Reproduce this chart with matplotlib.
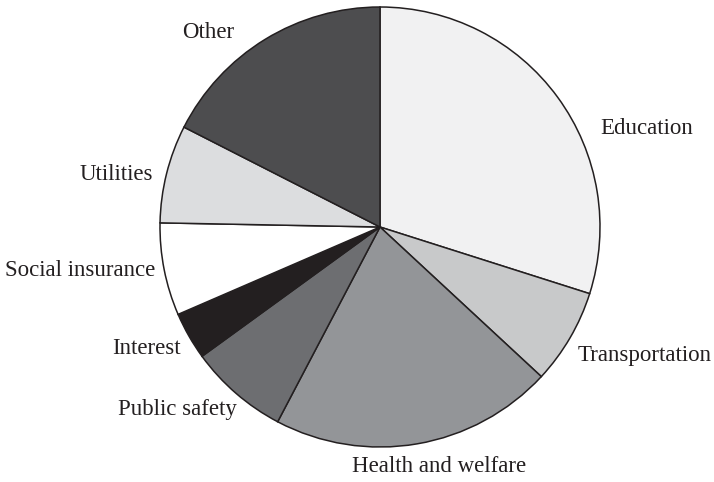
import matplotlib.pyplot as plt

# spending shares, clockwise from the top
categories = ['Education', 'Transportation', 'Health and welfare', 'Public safety',
              'Interest', 'Social insurance', 'Utilities', 'Other']
shares = [29.9, 7.0, 20.8, 7.3, 3.5, 6.8, 7.2, 17.5]

colors = ['#f1f1f2', '#c8c9ca', '#939598', '#6d6e71',
          '#231f20', '#ffffff', '#dcdddf', '#4d4d4f']

# label anchor points in figure pixels (left edge, vertical centre)
label_pos = [(600, 129), (578, 355), (352, 467), (118, 409),
             (112, 348), (5, 271), (80, 175), (182, 33)]

W, H = 714, 482
cx, cy, r = 380, 227, 220

fig = plt.figure(figsize=(W / 100, H / 100), dpi=100)
ax = fig.add_axes([(cx - r) / W, (H - cy - r) / H, 2 * r / W, 2 * r / H])

wedges, texts = ax.pie(shares, labels=categories, colors=colors, startangle=90,
                       counterclock=False,
                       wedgeprops=dict(edgecolor='#231f20', linewidth=1.1))
ax.set_xlim(-1, 1)
ax.set_ylim(-1, 1)
ax.set_aspect('auto')

for t, (px, py) in zip(texts, label_pos):
    t.set_position((px / W, 1 - py / H))
    t.set_transform(fig.transFigure)
    t.set_ha('left')
    t.set_va('center')
    t.set_fontsize(16.5)
    t.set_family('Liberation Serif')
    t.set_color('#231f20')

fig.savefig('out.png', dpi=100)
